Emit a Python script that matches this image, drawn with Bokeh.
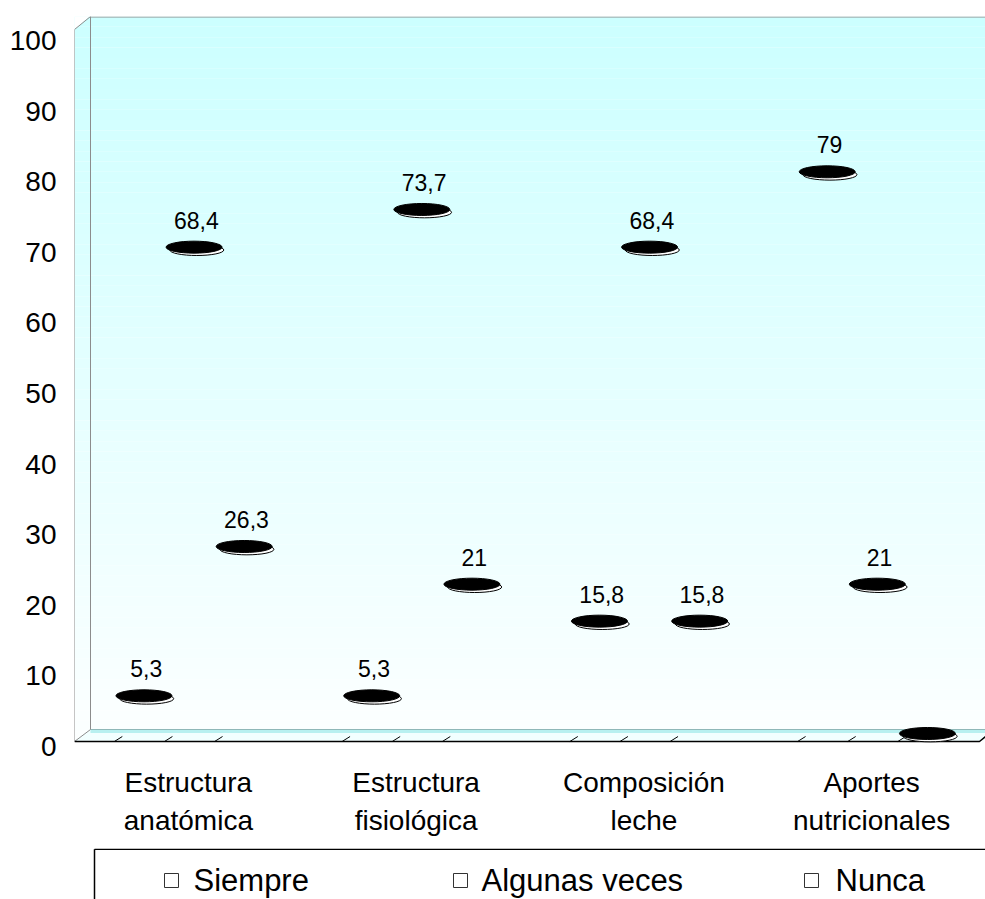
import numpy as np
from bokeh.plotting import figure
from bokeh.models import ColumnDataSource, Range1d, FixedTicker
from bokeh.transform import dodge
from bokeh.layouts import column
from bokeh.embed import file_html
from bokeh.resources import INLINE
from bokeh.core.properties import value

# ---------------- data ----------------
categories = ["Estructura\nanatómica", "Estructura\nfisiológica",
              "Composición\nleche", "Aportes\nnutricionales"]
series = ["Siempre", "Algunas veces", "Nunca"]
siempre = [5.3, 5.3, 15.8, 79]
algunas_veces = [68.4, 73.7, 68.4, 21]
nunca = [26.3, 21, 15.8, 0]
y_ticks = [0, 10, 20, 30, 40, 50, 60, 70, 80, 90, 100]

# ---------------- style / layout ----------------
FONT = "Liberation Sans"
series_values = [siempre, algunas_veces, nunca]
series_offsets = [-0.195, 0.025, 0.245]      # dodge within category
legend_square_x = [171, 460, 811]
legend_text_x = [193, 481, 835]

cat_pos = [i + 0.5 for i in range(len(categories))]

p = figure(width=985, height=848,
           x_range=Range1d(0, len(categories)),
           y_range=Range1d(0, 103.4),
           output_backend="svg", toolbar_location=None,
           min_border_left=74, min_border_right=0,
           min_border_top=16, min_border_bottom=102)
p.outline_line_color = None
p.grid.visible = False
p.background_fill_color = "white"
p.border_fill_color = "white"

# decoration coordinate system (pixel-like) + back-wall value scale
p.extra_x_ranges = {"px": Range1d(74, 985)}
p.extra_y_ranges = {"py": Range1d(746, 16),
                    "back": Range1d(-1.83, 100.84),
                    "rim": Range1d(-1.83 + 0.4, 100.84 + 0.4)}
deco = dict(x_range_name="px", y_range_name="py")

# gradient walls
n = 70
ys = np.linspace(16, 741, n + 1)
cols = []
for i in range(n):
    t = i / (n - 1)
    r = int(round(204 + (252 - 204) * t))
    cols.append("#%02x%02x%02x" % (r, 255, 255))
p.quad(left=74, right=985, top=ys[:-1], bottom=ys[1:], fill_color=cols,
       line_color=None, **deco)
p.patch([74, 90, 74], [15, 15, 29], fill_color="white", line_color=None, **deco)

# floor
p.patch([74, 90, 985, 985, 979], [741, 729, 729, 736, 741],
        fill_color="#F2FFFF", line_color=None, **deco)
p.line([90, 985], [731, 731], line_color="#B8F0F0", line_width=3, **deco)
p.line([90, 985], [729, 729], line_color="#8FB8B8", line_width=1, **deco)

# wall edges
p.multi_line(xs=[[90, 985], [90, 90], [74, 90], [74, 74], [74, 90]],
             ys=[[16.5, 16.5], [16, 729], [29, 16], [29, 741], [741, 729]],
             line_color="#8C8C8C", line_width=1, **deco)
p.line([74, 979, 985], [741, 741, 736], line_color="black", line_width=1.5, **deco)

# series marks
for vals, off in zip(series_values, series_offsets):
    src = ColumnDataSource(dict(pos=cat_pos, val=vals))
    # floor shadows
    p.segment(x0=dodge("pos", off - 0.185), y0=741,
              x1=dodge("pos", off - 0.13), y1=741,
              source=src, line_color="black", line_width=1, y_range_name="py")
    p.segment(x0=dodge("pos", off - 0.13), y0=741,
              x1=dodge("pos", off - 0.095), y1=736,
              source=src, line_color="black", line_width=1, y_range_name="py")
    # rim (white underside)
    p.ellipse(x=dodge("pos", off + 0.012), y="val",
              width=54, height=11, width_units="screen", height_units="screen",
              fill_color="white", line_color="black", line_width=1,
              source=src, y_range_name="rim")
    # top (black)
    p.ellipse(x=dodge("pos", off), y="val",
              width=56, height=12, width_units="screen", height_units="screen",
              fill_color="black", line_color="black", line_width=1,
              source=src, y_range_name="back")
    # value labels
    lab_pos = [c for c, v in zip(cat_pos, vals) if v > 0]
    lab_val = [v for v in vals if v > 0]
    lab_txt = [("%g" % v).replace(".", ",") for v in lab_val]
    lsrc = ColumnDataSource(dict(pos=lab_pos, val=lab_val, txt=lab_txt))
    p.text(x=dodge("pos", off + 0.01), y="val", text="txt",
           source=lsrc, y_range_name="back", y_offset=-27,
           text_align="center", text_baseline="middle",
           text_font=value(FONT), text_font_size="23px", text_color="black")

# axes
p.yaxis.ticker = FixedTicker(ticks=y_ticks)
p.yaxis.axis_line_color = None
p.yaxis.major_tick_line_color = None
p.yaxis.minor_tick_line_color = None
p.yaxis.major_label_text_font = FONT
p.yaxis.major_label_text_font_size = "28px"
p.yaxis.major_label_text_color = "black"
p.yaxis.major_label_standoff = 12

p.xaxis.ticker = FixedTicker(ticks=cat_pos)
p.xaxis.major_label_overrides = {pos: c for pos, c in zip(cat_pos, categories)}
p.xaxis.axis_line_color = None
p.xaxis.major_tick_line_color = None
p.xaxis.minor_tick_line_color = None
p.xaxis.major_label_text_font = FONT
p.xaxis.major_label_text_font_size = "28px"
p.xaxis.major_label_text_color = "black"
p.xaxis.major_label_text_line_height = 1.25
p.xaxis.major_label_standoff = 14

# ---------------- legend strip ----------------
leg = figure(width=985, height=51, x_range=Range1d(74, 985), y_range=Range1d(51, 0),
             output_backend="svg", toolbar_location=None,
             x_axis_location=None, y_axis_location=None,
             min_border_left=74, min_border_right=0,
             min_border_top=0, min_border_bottom=0)
leg.outline_line_color = None
leg.grid.visible = False
leg.multi_line(xs=[[94, 985], [94, 94]], ys=[[0.8, 0.8], [0.8, 51]],
               line_color="black", line_width=1.5)
leg.scatter(x=legend_square_x, y=[32] * 3, marker="square", size=14,
            fill_color="white", line_color="#333333", line_width=1)
leg.text(x=legend_text_x, y=[32] * 3, text=series, text_align="left",
         text_baseline="middle", text_font=value(FONT),
         text_font_size="31px", text_color="black")

layout = column(p, leg, spacing=0)
open("out.html", "w").write(file_html(layout, INLINE))
